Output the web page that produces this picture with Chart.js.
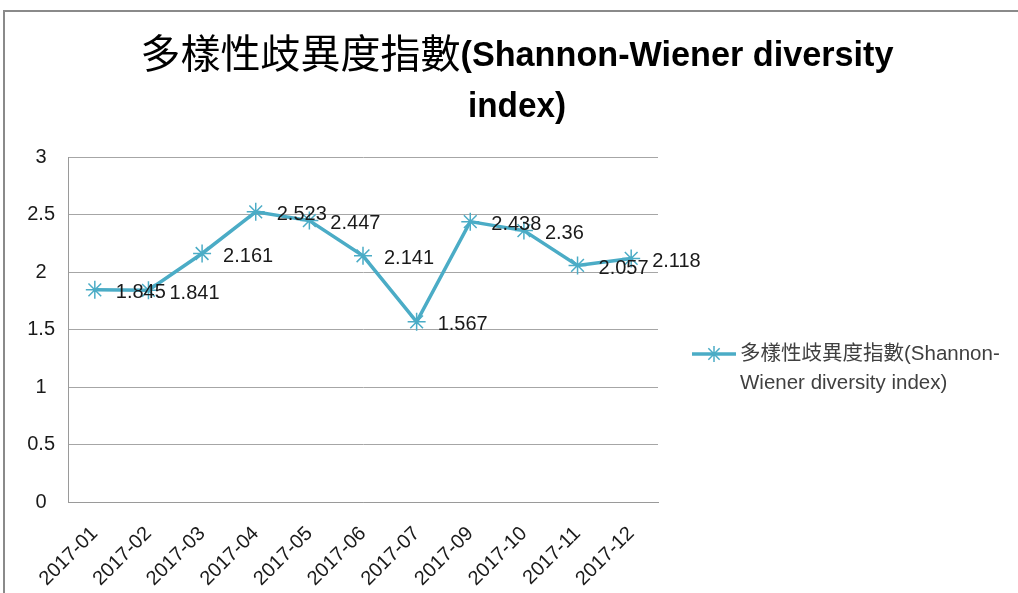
<!DOCTYPE html>
<html>
<head>
<meta charset="utf-8">
<script src="https://cdn.jsdelivr.net/npm/chart.js@4/dist/chart.umd.min.js"></script>
<style>
  html, body { margin: 0; padding: 0; background: #fff; }
  #wrap { position: relative; width: 1018px; height: 593px; overflow: hidden; }
  #frame { position: absolute; left: 3px; top: 10px; width: 1100px; height: 700px;
           border-top: 2px solid #8a8a8a; border-left: 2px solid #8a8a8a; }
  canvas { position: absolute; left: 0; top: 0; }
</style>
</head>
<body>
<div id="wrap">
  <div id="frame"></div>
  <canvas id="c" width="1018" height="593"></canvas>
</div>
<script>
const categories = ['2017-01','2017-02','2017-03','2017-04','2017-05','2017-06','2017-07','2017-09','2017-10','2017-11','2017-12'];
const diversityValues = [1.845, 1.841, 2.161, 2.523, 2.447, 2.141, 1.567, 2.438, 2.36, 2.057, 2.118];
const yTicks = [0, 0.5, 1, 1.5, 2, 2.5, 3];
const titleCJK = '多樣性歧異度指數';
const titleLatin1 = '(Shannon-Wiener diversity';
const titleLatin2 = 'index)';
const seriesName = '多樣性歧異度指數(Shannon-Wiener diversity index)';
const legendLines = ['多樣性歧異度指數(Shannon-', 'Wiener diversity index)'];

const LINE_COLOR = '#4bacc6';
const BASE_FONT = '"Liberation Sans", "Noto Sans CJK TC", sans-serif';

const labelPlugin = {
  id: 'valueLabels',
  afterDatasetsDraw(chart) {
    const ctx = chart.ctx;
    const meta = chart.getDatasetMeta(0);
    ctx.save();
    ctx.font = '20px ' + BASE_FONT;
    ctx.fillStyle = '#1a1a1a';
    ctx.textAlign = 'left';
    ctx.textBaseline = 'middle';
    meta.data.forEach((pt, i) => {
      ctx.fillText(String(diversityValues[i]), pt.x + 21, pt.y + 3);
    });
    ctx.restore();
  }
};

const titlePlugin = {
  id: 'mixedTitle',
  afterDraw(chart) {
    const ctx = chart.ctx;
    ctx.save();
    ctx.fillStyle = '#000';
    ctx.textBaseline = 'alphabetic';
    ctx.textAlign = 'left';
    const cjkFont = '40px "Noto Sans CJK TC", sans-serif';
    const latFont = 'bold 35px "Liberation Sans", sans-serif';
    ctx.font = cjkFont;
    const w1 = ctx.measureText(titleCJK).width;
    ctx.font = latFont;
    const latMax = 433;
    const w2 = Math.min(ctx.measureText(titleLatin1).width, latMax);
    const cx = 517;
    const x0 = cx - (w1 + w2) / 2;
    ctx.font = cjkFont;
    ctx.fillText(titleCJK, x0, 68);
    ctx.font = latFont;
    ctx.fillText(titleLatin1, x0 + w1, 66, latMax);
    const w3 = Math.min(ctx.measureText(titleLatin2).width, 98);
    ctx.fillText(titleLatin2, cx - w3 / 2, 117, 98);
    ctx.restore();
  }
};

const legendPlugin = {
  id: 'sideLegend',
  afterDraw(chart) {
    const ctx = chart.ctx;
    ctx.save();
    const y = 354;
    ctx.strokeStyle = LINE_COLOR;
    ctx.lineWidth = 3.5;
    ctx.beginPath();
    ctx.moveTo(692, y);
    ctx.lineTo(736, y);
    ctx.stroke();
    ctx.lineWidth = 1.5;
    Chart.helpers.drawPoint(ctx, {pointStyle: 'star', radius: 8, borderWidth: 1.5}, 714, y);
    ctx.fillStyle = '#404040';
    ctx.font = '20.5px ' + BASE_FONT;
    ctx.textBaseline = 'middle';
    ctx.textAlign = 'left';
    ctx.fillText(legendLines[0], 740, y, 274);
    ctx.fillText(legendLines[1], 740, y + 29, 212);
    ctx.restore();
  }
};

new Chart(document.getElementById('c'), {
  type: 'line',
  data: {
    labels: categories,
    datasets: [{
      label: seriesName,
      data: diversityValues,
      borderColor: LINE_COLOR,
      backgroundColor: LINE_COLOR,
      borderWidth: 3.5,
      pointStyle: 'star',
      pointRadius: 9,
      pointBorderWidth: 1.5,
      pointBorderColor: LINE_COLOR,
      tension: 0
    }]
  },
  options: {
    responsive: false,
    animation: false,
    devicePixelRatio: 1,
    layout: { padding: { left: 0, right: 360, top: 157, bottom: 0 } },
    plugins: {
      legend: { display: false },
      title: { display: false },
      tooltip: { enabled: false }
    },
    scales: {
      x: {
        offset: true,
        grid: { display: false, drawTicks: false },
        border: { display: true, color: '#9a9a9a', width: 1 },
        ticks: {
          color: '#1a1a1a',
          font: { family: BASE_FONT, size: 20 },
          maxRotation: 45, minRotation: 45,
          autoSkip: false,
          padding: 20
        },
        afterFit(scale) { scale.height = 91; }
      },
      y: {
        min: 0, max: 3,
        afterBuildTicks(scale) { scale.ticks = yTicks.map(v => ({ value: v })); },
        grid: { color: '#a6a6a6', lineWidth: 1, drawTicks: false },
        border: { display: true, color: '#9a9a9a', width: 1 },
        ticks: {
          color: '#1a1a1a',
          font: { family: BASE_FONT, size: 20 },
          padding: 13,
          crossAlign: 'center',
          callback: (v) => String(v)
        },
        afterFit(scale) { scale.width = 68; }
      }
    }
  },
  plugins: [labelPlugin, titlePlugin, legendPlugin]
});
</script>
</body>
</html>
